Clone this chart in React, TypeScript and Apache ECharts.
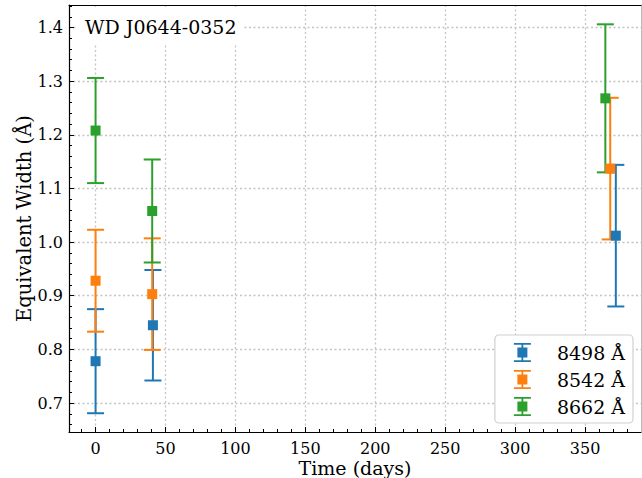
import React, { useEffect, useRef } from "react";
import * as echarts from "echarts";

// Data
const seriesNames = ["8498 Å", "8542 Å", "8662 Å"];
const seriesColors = ["#1f77b4", "#ff7f0e", "#2ca02c"];

const times8498 = [0, 41, 372];
const ew8498 = [0.778, 0.845, 1.012];
const err8498 = [0.097, 0.103, 0.132];

const times8542 = [0, 40.5, 368];
const ew8542 = [0.928, 0.903, 1.137];
const err8542 = [0.095, 0.104, 0.132];

const times8662 = [0, 40.5, 364.5];
const ew8662 = [1.208, 1.058, 1.268];
const err8662 = [0.098, 0.096, 0.138];

const xMajorTicks = [0, 50, 100, 150, 200, 250, 300, 350];
const xMinorTicks = [-10, 10, 20, 30, 40, 60, 70, 80, 90, 110, 120, 130, 140, 160, 170, 180, 190, 210, 220, 230, 240, 260, 270, 280, 290, 310, 320, 330, 340, 360, 370, 380];
const yMajorTicks = [0.7, 0.8, 0.9, 1.0, 1.1, 1.2, 1.3, 1.4];
const yMinorTicks = [0.66, 0.68, 0.72, 0.74, 0.76, 0.78, 0.82, 0.84, 0.86, 0.88, 0.92, 0.94, 0.96, 0.98, 1.02, 1.04, 1.06, 1.08, 1.12, 1.14, 1.16, 1.18, 1.22, 1.24, 1.26, 1.28, 1.32, 1.34, 1.36, 1.38, 1.42, 1.44];

const titleText = "WD J0644-0352";
const xName = "Time (days)";
const yName = "Equivalent Width (Å)";

const X_MIN = -19;
const X_MAX = 390;
const Y_MIN = 0.646;
const Y_MAX = 1.442;

const FONT = "DejaVu Serif";

const legendIcon =
  "path://M0,0 H17 V1.8 H0 Z M0,17.2 H17 V19 H0 Z M7.6,0 H9.4 V19 H7.6 Z M3.5,4.5 H13.5 V14.5 H3.5 Z";

const allTimes = [times8498, times8542, times8662];
const allEw = [ew8498, ew8542, ew8662];
const allErr = [err8498, err8542, err8662];

export default function App() {
  const ref = useRef<HTMLDivElement>(null);

  useEffect(() => {
    if (!ref.current) return;
    const chart = echarts.init(ref.current, undefined, { renderer: "svg" });

    const errSeries: any[] = [];
    const markerSeries: any[] = [];
    seriesNames.forEach((name, i) => {
      const color = seriesColors[i];
      const barData = allTimes[i].map((t, j) => [t, allEw[i][j] - allErr[i][j], allEw[i][j] + allErr[i][j]]);
      const ptData = allTimes[i].map((t, j) => [t, allEw[i][j]]);
      errSeries.push({
        type: "custom",
        name,
        xAxisIndex: 0,
        yAxisIndex: 0,
        z: 2,
        clip: false,
        encode: { x: 0, y: [1, 2] },
        data: barData,
        renderItem: (params: any, api: any) => {
          const x = api.value(0);
          const lo = api.value(1);
          const hi = api.value(2);
          const pLo = api.coord([x, lo]);
          const pHi = api.coord([x, hi]);
          const cap = 8.5;
          const st = { stroke: color, lineWidth: 2 };
          return {
            type: "group",
            children: [
              { type: "line", shape: { x1: pLo[0], y1: pLo[1], x2: pHi[0], y2: pHi[1] }, style: st },
              { type: "line", shape: { x1: pHi[0] - cap, y1: pHi[1], x2: pHi[0] + cap, y2: pHi[1] }, style: st },
              { type: "line", shape: { x1: pLo[0] - cap, y1: pLo[1], x2: pLo[0] + cap, y2: pLo[1] }, style: st },
            ],
          };
        },
      });
      markerSeries.push({
        type: "scatter",
        name,
        xAxisIndex: 0,
        yAxisIndex: 0,
        z: 3,
        symbol: "rect",
        symbolSize: 10,
        itemStyle: { color, opacity: 1 },
        emphasis: { disabled: true },
        data: ptData,
      });
    });

    const tickLabelStyle = { fontFamily: FONT, fontSize: 16, color: "#000" };

    chart.setOption({
      animation: false,
      backgroundColor: "#fff",
      grid: { left: 69, right: 1, top: 5, bottom: 46, containLabel: false, outerBoundsMode: "none" },
      xAxis: [
        {
          type: "value",
          min: X_MIN,
          max: X_MAX,
          position: "bottom",
          name: xName,
          nameLocation: "middle",
          nameGap: 26,
          nameMoveOverlap: false,
          nameTextStyle: { fontFamily: FONT, fontSize: 19, lineHeight: 20, color: "#000" },
          axisLine: { show: true, onZero: false, lineStyle: { color: "#000", width: 1.2 } },
          axisTick: { show: true, inside: true, length: 5, customValues: xMajorTicks, lineStyle: { color: "#000", width: 1 } },
          axisLabel: { show: true, margin: 8, customValues: xMajorTicks, formatter: (v: number) => String(v), ...tickLabelStyle },
          splitLine: { show: true, lineStyle: { color: "#c4c4c4", width: 1.3, type: [2, 2.5] } },
        },
        {
          type: "value",
          min: X_MIN,
          max: X_MAX,
          position: "bottom",
          offset: 0,
          axisLine: { show: false, onZero: false },
          axisTick: { show: true, inside: true, length: 3, customValues: xMinorTicks, lineStyle: { color: "#000", width: 1 } },
          axisLabel: { show: false },
          splitLine: { show: false },
        },
        {
          type: "value",
          min: X_MIN,
          max: X_MAX,
          position: "top",
          offset: 0,
          axisLine: { show: true, onZero: false, lineStyle: { color: "#000", width: 1.2 } },
          axisTick: { show: false },
          axisLabel: { show: false },
          splitLine: { show: false },
        },
      ],
      yAxis: [
        {
          type: "value",
          min: Y_MIN,
          max: Y_MAX,
          position: "left",
          name: yName,
          nameLocation: "middle",
          nameGap: 35,
          nameMoveOverlap: false,
          nameTextStyle: { fontFamily: FONT, fontSize: 19.5, color: "#000" },
          axisLine: { show: true, onZero: false, lineStyle: { color: "#000", width: 1.2 } },
          axisTick: { show: true, inside: true, length: 5, customValues: yMajorTicks, lineStyle: { color: "#000", width: 1 } },
          axisLabel: { show: true, margin: 6, customValues: yMajorTicks, formatter: (v: number) => v.toFixed(1), ...tickLabelStyle },
          splitLine: { show: true, lineStyle: { color: "#c4c4c4", width: 1.3, type: [2, 2.5] } },
        },
        {
          type: "value",
          min: Y_MIN,
          max: Y_MAX,
          position: "left",
          offset: 0,
          axisLine: { show: false, onZero: false },
          axisTick: { show: true, inside: true, length: 3, customValues: yMinorTicks, lineStyle: { color: "#000", width: 1 } },
          axisLabel: { show: false },
          splitLine: { show: false },
        },
        {
          type: "value",
          min: Y_MIN,
          max: Y_MAX,
          position: "right",
          offset: 0,
          axisLine: { show: true, onZero: false, lineStyle: { color: "#bbb", width: 1 } },
          axisTick: { show: false },
          axisLabel: { show: false },
          splitLine: { show: false },
        },
      ],
      legend: {
        show: true,
        orient: "vertical",
        right: 9,
        bottom: 55,
        backgroundColor: "#fff",
        borderColor: "#d0d0d0",
        borderWidth: 1.2,
        borderRadius: 4,
        padding: [8, 8, 7, 19],
        itemGap: 8,
        itemWidth: 17,
        itemHeight: 19,
        selectedMode: false,
        textStyle: { fontFamily: FONT, fontSize: 19, color: "#000", padding: [0, 0, 0, 21] },
        data: seriesNames.map((n, i) => ({ name: n, icon: legendIcon, itemStyle: { color: seriesColors[i] } })),
      },
      graphic: [
        {
          type: "rect",
          z: 10,
          shape: { x: 76, y: 7, width: 168, height: 38 },
          style: { fill: "#fff" },
        },
        {
          type: "text",
          z: 11,
          x: 85,
          y: 27,
          style: { text: titleText, fontFamily: FONT, fontSize: 19, fill: "#000", textVerticalAlign: "middle", verticalAlign: "middle" },
        },
      ],
      series: [...errSeries, ...markerSeries],
    });

    return () => chart.dispose();
  }, []);

  return (
    <div style={{ position: "absolute", left: 0, top: 0 }}>
      <div ref={ref} style={{ width: 642, height: 478 }} />
    </div>
  );
}
